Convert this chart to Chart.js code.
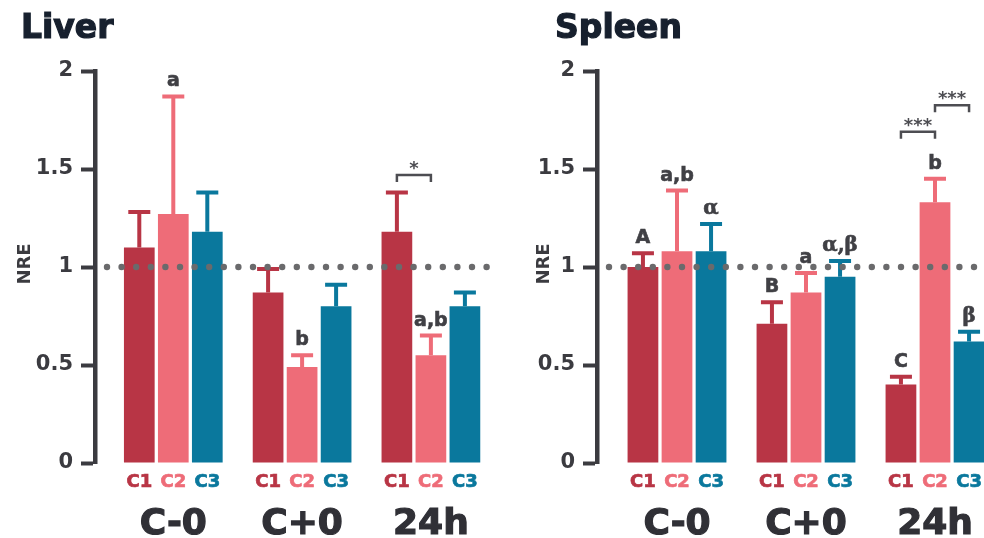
<!DOCTYPE html>
<html>
<head>
<meta charset="utf-8">
<script src="https://cdn.jsdelivr.net/npm/chart.js@4.4.1/dist/chart.umd.min.js"></script>
<style>
  html, body { margin: 0; padding: 0; background: #ffffff; width: 984px; height: 538px; overflow: hidden; }
  canvas.panel { position: absolute; top: 0; }
</style>
</head>
<body>
<canvas id="liver" class="panel" width="492" height="538" style="left:0px"></canvas>
<canvas id="spleen" class="panel" width="500" height="538" style="left:492px"></canvas>
<script>
// ---- data ----
const groups = ['C-0', 'C+0', '24h'];
const seriesNames = ['C1', 'C2', 'C3'];
const seriesColors = ['#b83545', '#ee6c78', '#0a789d'];
const yTickValues = [0, 0.5, 1, 1.5, 2];
const referenceLevel = 1;

// Liver: mean NRE and upper error per time point
const liverC1 = [1.10, 0.87, 1.18];
const liverC2 = [1.27, 0.49, 0.55];
const liverC3 = [1.18, 0.80, 0.80];
const liverErrC1 = [0.18, 0.12, 0.20];
const liverErrC2 = [0.60, 0.06, 0.10];
const liverErrC3 = [0.20, 0.11, 0.07];
const liverLettersC1 = ['', '', ''];
const liverLettersC2 = ['a', 'b', 'a,b'];
const liverLettersC3 = ['', '', ''];
const liverSig = [{ group: 2, from: 0, to: 1, level: 1.47, mark: '*' }];

// Spleen: mean NRE and upper error per time point
const spleenC1 = [1.00, 0.71, 0.40];
const spleenC2 = [1.08, 0.87, 1.33];
const spleenC3 = [1.08, 0.95, 0.62];
const spleenErrC1 = [0.07, 0.11, 0.04];
const spleenErrC2 = [0.31, 0.10, 0.12];
const spleenErrC3 = [0.14, 0.08, 0.05];
const spleenLettersC1 = ['A', 'B', 'C'];
const spleenLettersC2 = ['a,b', 'a', 'b'];
const spleenLettersC3 = ['α', 'α,β', 'β'];
const spleenSig = [
  { group: 2, from: 0, to: 1, level: 1.69, mark: '***' },
  { group: 2, from: 1, to: 2, level: 1.825, mark: '***' }
];

// ---- styling ----
const INK = '#3b3b40';
const SANS = 'DejaVu Sans';
Chart.defaults.font.family = SANS;

function decorPlugin(p) {
  return {
    id: 'panelDecor',
    afterDatasetsDraw(chart) {
      const ctx = chart.ctx;
      const ys = chart.scales.y;
      const area = chart.chartArea;
      ctx.save();

      // error bars + letters
      chart.data.datasets.forEach((ds, i) => {
        const meta = chart.getDatasetMeta(i);
        meta.data.forEach((bar, j) => {
          const top = ys.getPixelForValue(ds.data[j].y + p.errors[i][j]);
          ctx.strokeStyle = ds.backgroundColor;
          ctx.lineWidth = 4;
          ctx.lineCap = 'butt';
          ctx.beginPath();
          ctx.moveTo(bar.x, bar.y);
          ctx.lineTo(bar.x, top);
          ctx.moveTo(bar.x - 11, top);
          ctx.lineTo(bar.x + 11, top);
          ctx.stroke();

          const lab = p.letters[i][j];
          if (lab) {
            const greek = /[α-ω]/.test(lab);
            ctx.font = greek ? 'bold 20px "DejaVu Serif"' : 'bold 19px "' + SANS + '"';
            ctx.fillStyle = '#404045';
            ctx.strokeStyle = '#404045';
            ctx.lineWidth = 0.6;
            ctx.textAlign = 'center';
            ctx.textBaseline = 'alphabetic';
            ctx.fillText(lab, bar.x, top - 10);
            ctx.strokeText(lab, bar.x, top - 10);
          }
        });
      });

      // significance brackets
      p.sig.forEach(s => {
        const xa = chart.getDatasetMeta(s.from).data[s.group].x;
        const xb = chart.getDatasetMeta(s.to).data[s.group].x;
        const y = ys.getPixelForValue(s.level);
        ctx.strokeStyle = '#4d4d52';
        ctx.lineWidth = 2.5;
        ctx.lineCap = 'butt';
        ctx.beginPath();
        ctx.moveTo(xa, y + 7);
        ctx.lineTo(xa, y);
        ctx.lineTo(xb, y);
        ctx.lineTo(xb, y + 7);
        ctx.stroke();
        ctx.font = 'bold 18px "' + SANS + '"';
        ctx.fillStyle = '#4d4d52';
        ctx.textAlign = 'center';
        ctx.textBaseline = 'alphabetic';
        ctx.fillText(s.mark, (xa + xb) / 2, y - 1);
      });

      // dotted reference line
      const yr = ys.getPixelForValue(referenceLevel);
      ctx.fillStyle = '#6a6a6c';
      for (let x = area.left + 12; x <= area.right - 2; x += 14.6) {
        ctx.beginPath();
        ctx.arc(x, yr, 3.2, 0, Math.PI * 2);
        ctx.fill();
      }
      ctx.restore();
    },
    afterDraw(chart) {
      const ctx = chart.ctx;
      const xs = chart.scales.x;
      ctx.save();

      // series labels under each bar
      ctx.textAlign = 'center';
      ctx.textBaseline = 'alphabetic';
      ctx.font = 'bold 18px "' + SANS + '"';
      ctx.lineWidth = 0.7;
      chart.data.datasets.forEach((ds, i) => {
        chart.getDatasetMeta(i).data.forEach(bar => {
          ctx.fillStyle = seriesColors[i];
          ctx.strokeStyle = seriesColors[i];
          ctx.fillText(seriesNames[i], bar.x, 487);
          ctx.strokeText(seriesNames[i], bar.x, 487);
        });
      });

      // time point labels
      ctx.font = 'bold 36px "' + SANS + '"';
      ctx.fillStyle = '#303036';
      ctx.strokeStyle = '#303036';
      ctx.lineWidth = 1.2;
      groups.forEach((g, j) => {
        const x = xs.getPixelForValue(j);
        ctx.fillText(g, x, 534);
        ctx.strokeText(g, x, 534);
      });

      // panel title
      ctx.textAlign = 'left';
      ctx.font = 'bold 33px "' + SANS + '"';
      ctx.fillStyle = '#17202e';
      ctx.strokeStyle = '#17202e';
      ctx.lineWidth = 1.2;
      ctx.fillText(p.title, p.titleX, 38);
      ctx.strokeText(p.title, p.titleX, 38);

      // y axis title
      ctx.translate(p.nreX, 264);
      ctx.rotate(-Math.PI / 2);
      ctx.textAlign = 'center';
      ctx.textBaseline = 'middle';
      ctx.font = 'bold 18px "' + SANS + '"';
      ctx.fillStyle = INK;
      ctx.fillText('NRE', 0, 0);
      ctx.restore();
    }
  };
}

function makePanel(canvasId, p) {
  const pxPerGroup = p.pxPerGroup;
  const chartWidth = p.canvasWidth - p.axisX;
  const xMin = -(p.firstCenter - p.axisX) / pxPerGroup;
  const xMax = xMin + chartWidth / pxPerGroup;

  return new Chart(document.getElementById(canvasId), {
    type: 'bar',
    data: {
      datasets: seriesNames.map((name, i) => ({
        label: name,
        data: groups.map((g, j) => ({ x: j, y: p.means[i][j] })),
        backgroundColor: seriesColors[i],
        borderWidth: 0,
        categoryPercentage: 0.792,
        barPercentage: 0.903
      }))
    },
    options: {
      responsive: false,
      animation: false,
      events: [],
      layout: { padding: { left: 0, right: 0, top: 71, bottom: 75 } },
      plugins: {
        legend: { display: false },
        tooltip: { enabled: false },
        title: { display: false }
      },
      scales: {
        x: {
          type: 'linear',
          offset: false,
          min: xMin,
          max: xMax,
          display: false,
          afterBuildTicks: s => { s.ticks = groups.map((g, j) => ({ value: j })); }
        },
        y: {
          min: 0,
          max: 2,
          afterBuildTicks: s => { s.ticks = yTickValues.map(v => ({ value: v })); },
          afterFit: s => { s.width = p.axisX; },
          border: { display: true, width: 4.5, color: INK },
          grid: { drawOnChartArea: false, drawTicks: true, tickLength: 14, tickWidth: 4, tickColor: INK },
          ticks: {
            padding: 8,
            color: INK,
            font: { family: SANS, size: 21, weight: 'bold' },
            callback: v => String(v)
          }
        }
      }
    },
    plugins: [decorPlugin(p)]
  });
}

makePanel('liver', {
  title: 'Liver',
  canvasWidth: 492,
  axisX: 95,
  firstCenter: 173.3,
  pxPerGroup: 128.8,
  titleX: 21,
  nreX: 25,
  means: [liverC1, liverC2, liverC3],
  errors: [liverErrC1, liverErrC2, liverErrC3],
  letters: [liverLettersC1, liverLettersC2, liverLettersC3],
  sig: liverSig
});

makePanel('spleen', {
  title: 'Spleen',
  canvasWidth: 500,
  axisX: 105,
  firstCenter: 185,
  pxPerGroup: 129,
  titleX: 63,
  nreX: 52,
  means: [spleenC1, spleenC2, spleenC3],
  errors: [spleenErrC1, spleenErrC2, spleenErrC3],
  letters: [spleenLettersC1, spleenLettersC2, spleenLettersC3],
  sig: spleenSig
});
</script>
</body>
</html>
